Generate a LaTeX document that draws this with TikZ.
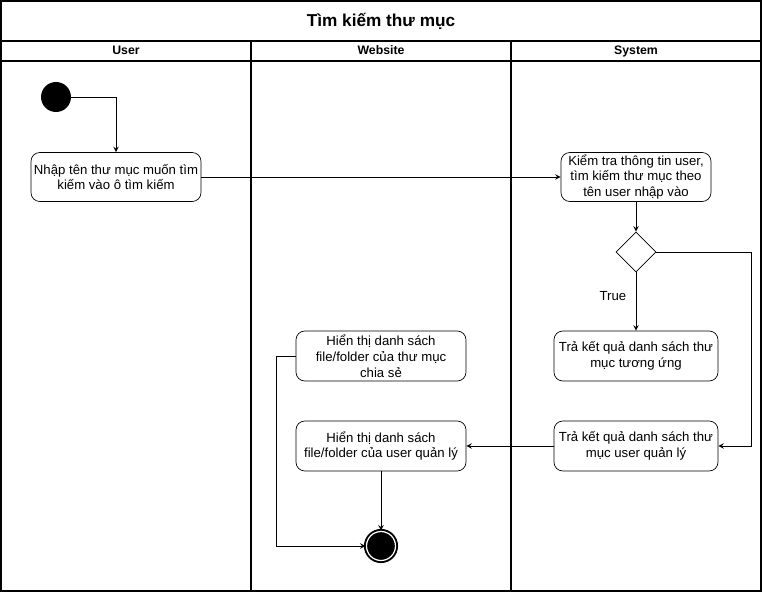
\documentclass[tikz,border=0pt]{standalone}
\usepackage{fontspec}
\setmainfont{Liberation Sans}
\usetikzlibrary{shapes.geometric, arrows}
\tikzstyle{startnode} = [
    circle,
    fill=black,
    minimum size=0.6cm,
    inner sep=0pt
]
\tikzstyle{endnode} = [
    circle,
    draw=black,
    fill=black,
    double=white,
    double distance=0.7pt,
    line width=1.1pt,
    minimum size=0.58cm,
    inner sep=0pt
]
\tikzstyle{action} = [
    rectangle,
    rounded corners=5pt,
    minimum width=3.4cm,
    minimum height=0.98cm,
    align=center,
    inner sep=1pt,
    font=\fontsize{7.5}{9}\selectfont,
    draw=black
]
\tikzstyle{decision} = [
    diamond,
    aspect=1,
    minimum size=0.8cm,
    inner sep=0pt,
    draw=black
]
\tikzstyle{lane} = [line width=1pt]
\tikzstyle{header} = [font=\fontsize{7}{8}\selectfont\bfseries, text height=5pt, text depth=1.5pt]
\tikzstyle{arrow} = [->,>=stealth]

\begin{document}
\begin{tikzpicture}[x=0.02cm, y=-0.02cm]
\useasboundingbox (0,0) rectangle (762,592);

% pool and lanes
\draw [lane] (1,1) rectangle (761,591);
\draw [lane] (1,41) -- (761,41);
\draw [lane] (1,61) -- (761,61);
\draw [lane] (251,41) -- (251,591);
\draw [lane] (511,41) -- (511,591);

\node (title) [font=\fontsize{9.8}{11}\selectfont\bfseries] at (381,21) {Tìm kiếm thư mục};
\node (user) [header] at (126,51) {User};
\node (web) [header] at (381,51) {Website};
\node (sys) [header] at (636,51) {System};

% nodes
\node (start) [startnode] at (56,97) {};

\node (input) [action] at (116,177)
{Nhập tên thư mục muốn tìm\\kiếm vào ô tìm kiếm};

\node (check) [action, minimum width=3cm] at (636,177)
{Kiểm tra thông tin user,\\tìm kiếm thư mục theo\\tên user nhập vào};

\node (dec) [decision] at (636,252) {};

\node (found) [action, minimum width=3.28cm, minimum height=1cm] at (636,356)
{Trả kết quả danh sách thư\\mục tương ứng};

\node (owned) [action, minimum width=3.28cm, minimum height=1cm] at (636,446)
{Trả kết quả danh sách thư\\mục user quản lý};

\node (shared) [action, minimum height=1cm] at (381,356)
{Hiển thị danh sách\\file/folder của thư mục\\chia sẻ};

\node (show) [action, minimum height=1cm] at (381,446)
{Hiển thị danh sách\\file/folder của user quản lý};

\node (stop) [endnode] at (381,546) {};

\coordinate (rt) at (751,252);
\coordinate (lf) at (276,356);

% connectors
\draw [arrow] (start) -| (input);
\draw [arrow] (input) -- (check);
\draw [arrow] (check) -- (dec);
\draw [arrow] (dec) -- node[left, pos=0.4, xshift=-2pt, font=\fontsize{7.5}{9}\selectfont]{True} (found);
\draw [arrow] (dec) -- (rt) |- (owned);
\draw [arrow] (owned) -- (show);
\draw [arrow] (show) -- (stop);
\draw [arrow] (shared) -- (lf) |- (stop);

\end{tikzpicture}
\end{document}
